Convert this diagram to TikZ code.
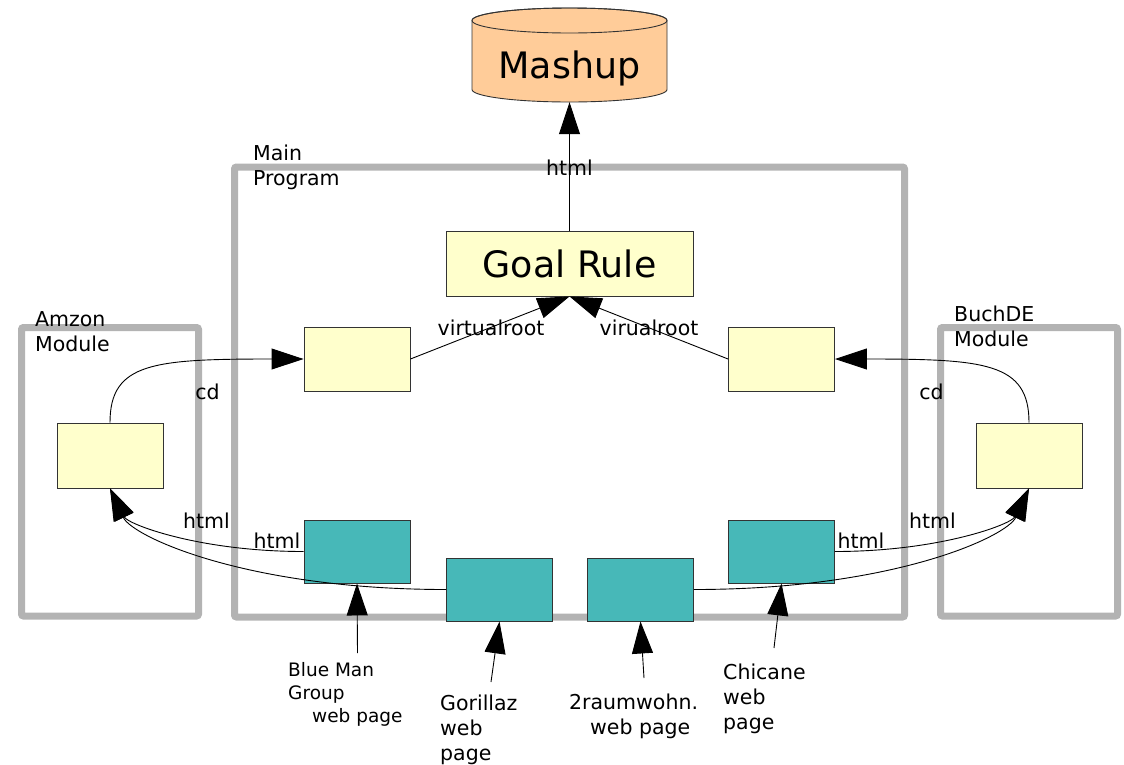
\documentclass[tikz,border=0pt]{standalone}
\usepackage{fontspec}
\setmainfont{DejaVu Sans}
\usetikzlibrary{arrows.meta}
\definecolor{ruleyellow}{RGB}{255,255,204}
\definecolor{pageteal}{RGB}{71,184,184}
\definecolor{mashorange}{RGB}{255,204,153}
\definecolor{modgray}{RGB}{179,179,179}
\tikzset{
  modbox/.style={draw=modgray,line width=7pt,rounded corners=2pt,inner sep=0},
  rulebox/.style={draw=black!80,line width=0.9pt,fill=ruleyellow,minimum width=106pt,minimum height=64pt,inner sep=0},
  pagebox/.style={draw=black!80,line width=0.9pt,fill=pageteal,minimum width=106pt,minimum height=63pt,inner sep=0},
  flow/.style={line width=0.9pt,-{Triangle[length=32pt,width=21pt]}},
  linktxt/.style={font=\fontsize{20.5}{25}\selectfont,inner sep=0,anchor=base},
  boxtxt/.style={font=\fontsize{20.5}{25}\selectfont,inner sep=0,anchor=north west,align=left}
}
\begin{document}
\begin{tikzpicture}[x=1pt,y=-1pt]
\useasboundingbox (0,0) rectangle (1124,764);
% modules
\node[modbox,minimum width=670pt,minimum height=450pt] (mainprog) at (569.5,392) {};
\node[modbox,minimum width=177pt,minimum height=288.5pt] (amzmod) at (110,471.75) {};
\node[modbox,minimum width=177pt,minimum height=288.5pt] (buchmod) at (1029,471.75) {};
\node[boxtxt] (maintxt) at (253,144.5) {Main\\Program};
\node[boxtxt] (amztxt) at (35,311) {Amzon\\Module};
\node[boxtxt] (buchtxt) at (954,305.5) {BuchDE\\Module};
% mashup
\filldraw[fill=mashorange,draw=black!80,line width=0.9pt] (472,20.5) -- (472,89.5)
  arc[start angle=180,end angle=360,x radius=97.5pt,y radius=12.5pt] -- (667,20.5)
  arc[start angle=0,end angle=180,x radius=97.5pt,y radius=12.5pt] -- cycle;
\draw[black!80,line width=0.9pt] (569.5,20.5) ellipse[x radius=97.5pt,y radius=12.5pt];
\node[inner sep=0,minimum width=195pt,minimum height=94pt,text height=50pt,text depth=4pt,
  font=\fontsize{36.4}{40}\selectfont] (mashup) at (569.5,55) {Mashup};
% rules
\node[rulebox,minimum width=247pt,minimum height=65pt,font=\fontsize{36.4}{40}\selectfont] (goal) at (569.5,263.5) {Goal Rule};
\node[rulebox] (ul) at (357,359) {};
\node[rulebox] (ur) at (781.5,359) {};
\node[rulebox,minimum height=65pt] (amz) at (110,455.5) {};
\node[rulebox,minimum height=65pt] (buch) at (1029,455.5) {};
% web pages
\foreach \nm/\x/\y in {bm/357/551.5,gor/499.5/589.5,raum/640.5/589.5,chic/781.5/551.5}
  \node[pagebox] (\nm) at (\x,\y) {};
\draw[flow] (goal) -- (mashup);
\draw[flow] (ul.east) -- (goal.south);
\draw[flow] (ur.west) -- (goal.south);
\draw[flow] (amz.north) .. controls +(0,-60) and +(-150,0) .. (ul.west);
\draw[flow] (buch.north) .. controls +(0,-60) and +(150,0) .. (ur.east);
\draw[flow] (bm.west) .. controls +(-104,0) and +(18,36) .. (amz.south);
\draw[flow] (gor.west) .. controls +(-200,0) and +(22,48) .. (amz.south);
\draw[flow] (chic.east) .. controls +(104,0) and +(-18,36) .. (buch.south);
\draw[flow] (raum.east) .. controls +(200,0) and +(-22,48) .. (buch.south);
\node[linktxt] (htmltop) at (569.5,175) {html};
\node[linktxt] (vrleft) at (491,335) {virtualroot};
\node[linktxt] (vrright) at (649,335) {virualroot};
\node[linktxt] (cdleft) at (207.5,399) {cd};
\node[linktxt] (cdright) at (931.5,399) {cd};
\node[linktxt] (htmlamz) at (206.5,528) {html};
\node[linktxt] (htmlbm) at (277,548) {html};
\node[linktxt] (htmlbuch) at (932.5,528) {html};
\node[linktxt] (htmlchic) at (861,548) {html};
% sources
\coordinate (bmfoot) at (357.5,653);
\coordinate (gorfoot) at (491,682);
\coordinate (raumfoot) at (644,678);
\coordinate (chicfoot) at (774,648);
\draw[flow] (bmfoot) -- (bm.south);
\draw[flow] (gorfoot) -- (gor.south);
\draw[flow] (raumfoot) -- (raum.south);
\draw[flow] (chicfoot) -- (chic.south);
\node[boxtxt,font=\fontsize{18.5}{23}\selectfont] (bmtxt) at (288,662) {Blue Man\\Group\\\hspace*{24pt}web page};
\node[boxtxt] (gortxt) at (440,695) {Gorillaz\\web\\page};
\node[boxtxt] (raumtxt) at (569,693.5) {2raumwohn.\\\hspace*{21pt}web page};
\node[boxtxt] (chictxt) at (723,663.5) {Chicane\\web\\page};
\end{tikzpicture}
\end{document}
